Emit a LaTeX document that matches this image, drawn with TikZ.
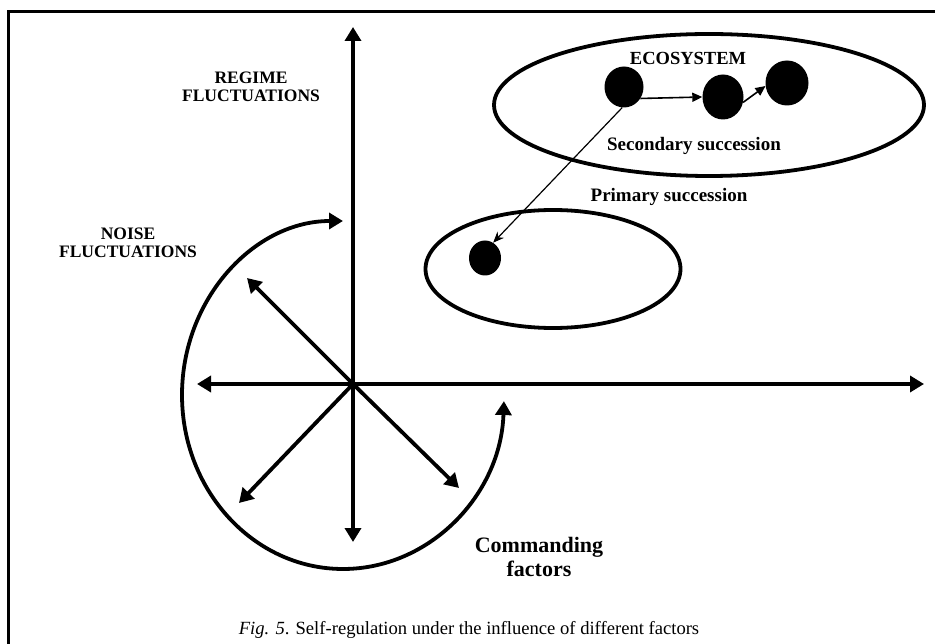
\documentclass[tikz,border=0pt]{standalone}
\usepackage{fontspec}
\setmainfont{Liberation Serif}
\usetikzlibrary{arrows.meta,shapes.geometric}
\tikzset{
  bigarrow/.style={line width=3.8pt,-{Triangle[width=16pt,length=14pt]}},
  bothbig/.style={line width=3.8pt,{Triangle[width=16pt,length=14pt]}-{Triangle[width=16pt,length=14pt]}},
  thinarrow/.style={line width=1.6pt,-{Triangle[width=9pt,length=10pt]}},
  ring/.style={ellipse,draw,line width=3.8pt,inner sep=0pt},
  dot/.style={ellipse,fill=black,inner sep=0pt},
  lbl/.style={font=\bfseries\fontsize{17.5}{20}\selectfont,align=center,inner sep=0pt},
}
\begin{document}
\begin{tikzpicture}[x=1pt,y=-1pt]
\useasboundingbox (0,0) rectangle (935,644);
% frame
\draw[line width=3pt] (8,644) -- (8,12) -- (935,12);
% centre and axes
\coordinate (o) at (353,384);
\coordinate (up) at (353,27);
\coordinate (dn) at (353,542);
\coordinate (lf) at (197,384);
\coordinate (rt) at (924,384);
\coordinate (ul) at (247,278);
\coordinate (ll) at (239,503);
\coordinate (lr) at (459,488);
\foreach \t in {up,dn,lf,rt,ul,ll,lr} \draw[bigarrow] (o) -- (\t);
% noise spiral
\coordinate (sp) at (343,221);
\draw[bothbig] (sp) arc[start angle=-90,end angle=-358,x radius=161,y radius=174];
% ellipses
\node[ring,minimum width=430pt,minimum height=142pt] (eco) at (709,105) {};
\node[ring,minimum width=255pt,minimum height=118pt] (prim) at (553,269) {};
% dots
\node[dot,minimum width=39pt,minimum height=41pt] (d1) at (624,87) {};
\node[dot,minimum width=41pt,minimum height=45pt] (d2) at (723,97) {};
\node[dot,minimum width=43pt,minimum height=45pt] (d3) at (787,83) {};
\node[dot,minimum width=32pt,minimum height=35pt] (d0) at (485,258) {};
\draw[thinarrow] (d1.-35) -- (d2.west);
\draw[thinarrow] (d2.-15) -- (d3.188);
\draw[line width=1.2pt,-{Stealth[width=9pt,length=11pt]}] (d1.-95) -- (d0.62);
% labels
\node[lbl] (regime) at (251,87) {REGIME\\[-2pt]FLUCTUATIONS};
\node[lbl] (noise) at (128,243) {NOISE\\[-2pt]FLUCTUATIONS};
\node[lbl,font=\bfseries\fontsize{18.5}{20}\selectfont] (ecol) at (688,58) {ECOSYSTEM};
\node[lbl,font=\bfseries\fontsize{19}{20}\selectfont] (sec) at (694,146) {Secondary succession};
\node[lbl,font=\bfseries\fontsize{19}{20}\selectfont] (pri) at (669,197) {Primary succession};
\node[lbl,font=\bfseries\fontsize{22}{24}\selectfont] (cmd) at (539,557) {Commanding\\factors};
\node[font=\fontsize{18.6}{20}\selectfont,inner sep=0pt] (cap) at (469,630) {\textit{Fig. 5}. Self-regulation under the influence of different factors};
\end{tikzpicture}
\end{document}
